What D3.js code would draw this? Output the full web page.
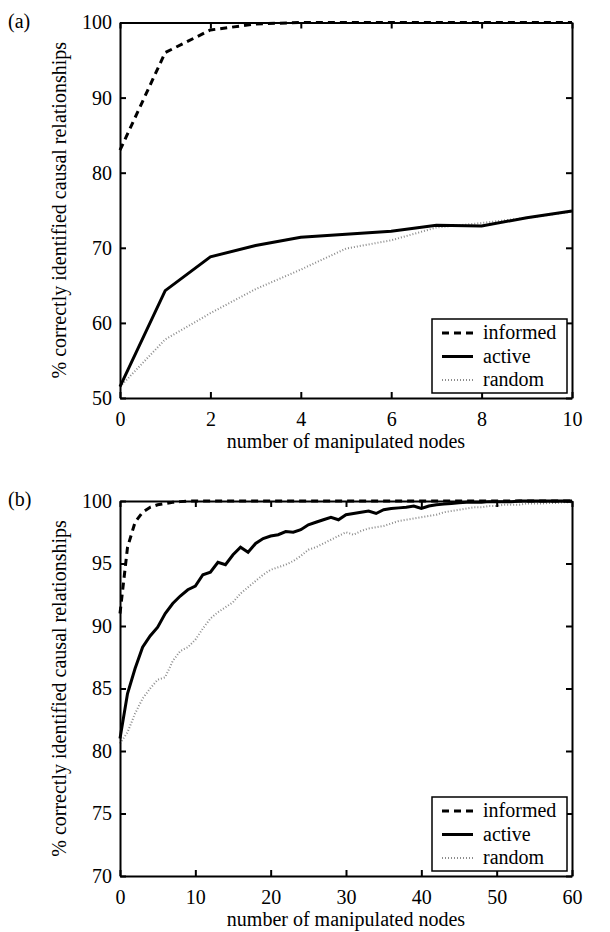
<!DOCTYPE html>
<html>
<head>
<meta charset="utf-8">
<script src="https://cdn.jsdelivr.net/npm/d3@7"></script>
<style>
	body { margin: 0; background: #fff; }
</style>
</head>
<body>
<script>
// panel (a): 0..10 manipulated nodes
const A_NODES = d3.range(0, 11);
const A_INFORMED = [83, 96, 99, 99.8, 100, 100, 100, 100, 100, 100, 100];
const A_ACTIVE = [51.5, 64.3, 68.8, 70.3, 71.4, 71.8, 72.2, 73.0, 72.9, 74.0, 74.9];
const A_RANDOM = [51.5, 57.8, 61.3, 64.5, 67.1, 69.9, 71.0, 72.7, 73.3, 74.0, 74.8];
const A_XTICKS = [0, 2, 4, 6, 8, 10];
const A_YTICKS = [50, 60, 70, 80, 90, 100];

// panel (b): 0..60 manipulated nodes
const B_NODES = d3.range(0, 61);
const B_INFORMED = [91, 96.3, 98.3, 99.1, 99.5, 99.7, 99.8, 99.9, 99.95,
	100, 100, 100, 100, 100, 100, 100, 100, 100, 100, 100,
	100, 100, 100, 100, 100, 100, 100, 100, 100, 100,
	100, 100, 100, 100, 100, 100, 100, 100, 100, 100,
	100, 100, 100, 100, 100, 100, 100, 100, 100, 100,
	100, 100, 100, 100, 100, 100, 100, 100, 100, 100, 100];
const B_ACTIVE = [81.0, 84.6, 86.6, 88.3, 89.2, 89.9, 91.0, 91.8, 92.4, 92.9,
	93.2, 94.1, 94.3, 95.1, 94.9, 95.7, 96.3, 95.9, 96.6, 97.0,
	97.2, 97.3, 97.55, 97.5, 97.7, 98.1, 98.3, 98.5, 98.7, 98.5,
	98.9, 99.0, 99.1, 99.2, 99.0, 99.3, 99.4, 99.45, 99.5, 99.6,
	99.4, 99.6, 99.7, 99.75, 99.8, 99.85, 99.9, 99.9, 99.9, 99.95,
	99.95, 99.95, 99.95, 100, 100, 100, 100, 100, 100, 100, 100];
const B_RANDOM = [80.6, 81.5, 83.0, 84.2, 85.0, 85.7, 85.9, 87.2, 88.0, 88.3,
	88.9, 89.8, 90.6, 91.1, 91.5, 91.9, 92.6, 93.1, 93.6, 94.1,
	94.5, 94.7, 94.9, 95.2, 95.6, 96.1, 96.3, 96.6, 96.9, 97.2,
	97.5, 97.3, 97.6, 97.8, 97.9, 98.0, 98.2, 98.4, 98.5, 98.6,
	98.7, 98.8, 98.9, 99.1, 99.2, 99.3, 99.4, 99.5, 99.5, 99.6,
	99.6, 99.7, 99.7, 99.7, 99.8, 99.8, 99.8, 99.85, 99.85, 99.9, 99.9];
const B_XTICKS = [0, 10, 20, 30, 40, 50, 60];
const B_YTICKS = [70, 75, 80, 85, 90, 95, 100];

const SERIES = ['informed', 'active', 'random'];
const STYLE = {
	informed: { stroke: '#000', width: 3, dash: '7,5' },
	active: { stroke: '#000', width: 3, dash: null },
	random: { stroke: '#8c8c8c', width: 2, dash: '1,2' }
};
const FONT = "'Liberation Serif', 'DejaVu Serif', serif";

let svg = d3.select('body').append('svg')
	.attr('width', 610)
	.attr('height', 932)
	.style('font-family', FONT);

function drawPanel(opt) {
	let x = d3.scaleLinear().domain(opt.xDomain).range([120, 572]);
	let y = d3.scaleLinear().domain(opt.yDomain).range([opt.bottom, opt.top]);
	let g = svg.append('g');

	let line = d3.line()
		.x((v, i) => x(opt.nodes[i]))
		.y(v => y(v));

	// data lines, random first so the others sit on top
	[['random', opt.random], ['active', opt.active], ['informed', opt.informed]].forEach(([name, values]) => {
		g.append('path')
			.datum(values)
			.attr('d', line)
			.attr('fill', 'none')
			.attr('stroke', STYLE[name].stroke)
			.attr('stroke-width', STYLE[name].width)
			.attr('stroke-dasharray', STYLE[name].dash);
	});

	// axes: ticks point inwards on all four sides
	let bottom = g.append('g')
		.attr('transform', `translate(0, ${opt.bottom})`)
		.call(d3.axisBottom(x).tickValues(opt.xTicks).tickSize(-6).tickSizeOuter(0).tickPadding(14));
	let left = g.append('g')
		.attr('transform', 'translate(120, 0)')
		.call(d3.axisLeft(y).tickValues(opt.yTicks).tickSize(-6).tickSizeOuter(0).tickPadding(8));
	let top = g.append('g')
		.attr('transform', `translate(0, ${opt.top})`)
		.call(d3.axisTop(x).tickValues(opt.xTicks).tickSize(-6).tickSizeOuter(0).tickFormat(''));
	let right = g.append('g')
		.attr('transform', 'translate(572, 0)')
		.call(d3.axisRight(y).tickValues(opt.yTicks).tickSize(-6).tickSizeOuter(0).tickFormat(''));

	[bottom, left, top, right].forEach(ax => {
		ax.attr('font-family', FONT).attr('font-size', 20);
		ax.selectAll('path, line').attr('stroke', '#000').attr('stroke-width', 2);
		ax.selectAll('text').attr('fill', '#000');
	});

	g.append('text')
		.attr('x', 346)
		.attr('y', opt.bottom + 50)
		.attr('text-anchor', 'middle')
		.attr('font-size', 20)
		.text('number of manipulated nodes');

	g.append('text')
		.attr('transform', `translate(66, ${(opt.top + opt.bottom) / 2}) rotate(-90)`)
		.attr('text-anchor', 'middle')
		.attr('font-size', 20)
		.text('% correctly identified causal relationships');

	g.append('text')
		.attr('x', 8)
		.attr('y', opt.top + 5)
		.attr('font-size', 20)
		.text(opt.label);

	// legend box in the lower right corner
	let legend = g.append('g')
		.attr('transform', `translate(432, ${opt.bottom - 79})`);
	legend.append('rect')
		.attr('width', 135)
		.attr('height', 74)
		.attr('fill', '#fff')
		.attr('stroke', '#000')
		.attr('stroke-width', 1.5);
	let items = legend.selectAll('g')
		.data(SERIES)
		.enter()
		.append('g')
		.attr('transform', (s, i) => `translate(0, ${14 + i * 23.5})`);
	items.append('line')
		.attr('x1', 10)
		.attr('x2', 41)
		.attr('stroke', s => STYLE[s].stroke)
		.attr('stroke-width', s => STYLE[s].width)
		.attr('stroke-dasharray', s => STYLE[s].dash);
	items.append('text')
		.attr('x', 51)
		.attr('y', 6)
		.attr('font-size', 20)
		.text(s => s);
}

drawPanel({
	label: '(a)', top: 22.5, bottom: 398,
	xDomain: [0, 10], yDomain: [50, 100],
	xTicks: A_XTICKS, yTicks: A_YTICKS,
	nodes: A_NODES, informed: A_INFORMED, active: A_ACTIVE, random: A_RANDOM
});

drawPanel({
	label: '(b)', top: 501, bottom: 876,
	xDomain: [0, 60], yDomain: [70, 100],
	xTicks: B_XTICKS, yTicks: B_YTICKS,
	nodes: B_NODES, informed: B_INFORMED, active: B_ACTIVE, random: B_RANDOM
});
</script>
</body>
</html>
